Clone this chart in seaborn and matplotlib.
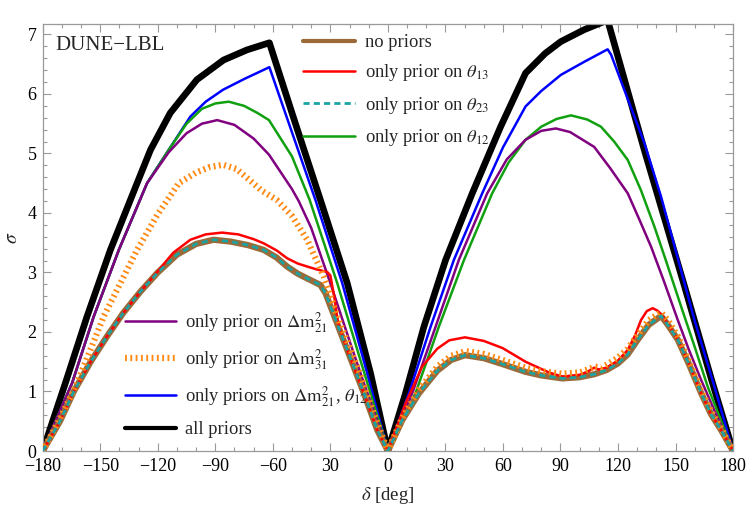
import matplotlib
matplotlib.use("Agg")
import matplotlib.pyplot as plt
from matplotlib.ticker import MultipleLocator
import seaborn as sns

# delta [deg] / sigma values
allp_x = [-180, -168.2, -156.9, -144.7, -130.8, -123.8, -113.5, -99.6, -85.7, -73.5, -61.8,
          -48.5, -35.2, -21.2, -9, 0, 9.2, 18.8, 30.1, 44, 58.8, 71.8, 82, 90.2, 102.4,
          114.6, 133.8, 154.6, 168.6, 180]
allp_y = [0, 1.14, 2.26, 3.38, 4.5, 5.06, 5.68, 6.24, 6.57, 6.74, 6.86,
          5.53, 4.22, 2.82, 1.3, 0, 0.97, 2.09, 3.21, 4.33, 5.45, 6.35, 6.68, 6.88, 7.08,
          7.24, 5.05, 2.78, 1.22, 0]

blue_x = [-180, -164.7, -153.4, -140.3, -125.6, -114.3, -103, -95, -86, -75, -61.8,
          -37.8, -23.8, -12, 0, 11, 22.3, 34.4, 49.2, 60, 71.8, 80, 90.2, 102.4, 114.6,
          116.4, 133.8, 142.5, 159.9, 170.3, 180]
blue_y = [0, 1.14, 2.26, 3.38, 4.5, 5.06, 5.62, 5.87, 6.07, 6.25, 6.45,
          4.22, 2.82, 1.45, 0, 0.97, 2.09, 3.21, 4.33, 5.1, 5.79, 6.05, 6.32, 6.54, 6.75,
          6.66, 5.17, 4.27, 2.2, 1.08, 0]

th12_x = [-180, -164.7, -153.4, -140.3, -125.6, -114.3, -105, -97, -90, -83, -75, -68,
          -62, -50, -40.8, -26.4, -15, 0, 14.4, 26.6, 39.7, 54.4, 63, 71.8, 80, 88, 95.5,
          104, 111.1, 118, 125.1, 132, 139, 145, 152.9, 160, 166.8, 180]
th12_y = [0, 1.14, 2.26, 3.38, 4.5, 5.06, 5.5, 5.75, 5.84, 5.87, 5.8, 5.68,
          5.56, 4.95, 4.22, 2.82, 1.6, 0, 0.97, 2.09, 3.21, 4.33, 4.85, 5.23, 5.45, 5.58, 5.64,
          5.57, 5.45, 5.2, 4.89, 4.38, 3.77, 3.2, 2.43, 1.75, 1.08, 0]

dm21_x = [-180, -164.7, -153.4, -140.3, -125.6, -114.3, -105, -97, -89, -80, -70, -62,
          -50, -46.5, -40, -30, -20, -12.5, 0, 12.7, 24.9, 37, 51.8, 62, 71.8, 80, 87.6,
          95, 107.6, 116, 125.1, 131, 137.3, 144, 151.2, 157, 163.4, 170, 180]
dm21_y = [0, 1.14, 2.26, 3.38, 4.5, 5.02, 5.34, 5.5, 5.56, 5.48, 5.25, 4.98,
          4.4, 4.2, 3.75, 2.82, 1.85, 1.14, 0, 0.97, 2.09, 3.21, 4.33, 4.9, 5.23, 5.38, 5.42,
          5.36, 5.11, 4.75, 4.33, 3.9, 3.43, 2.85, 2.2, 1.7, 1.19, 0.7, 0]

dm31_x = [-180, -171, -162.1, -148.2, -130.8, -120, -109, -100, -93, -86, -79, -72, -66,
          -58, -50, -42.1, -33.4, -26.4, -16, -7.3, 0, 7.5, 16.2, 25.8, 33, 40.6, 50,
          59.8, 71.8, 80, 91, 100, 105, 108, 111, 114, 120, 125, 130.3, 136, 142.5, 146,
          151.2, 157, 163.4, 168.5, 173.8, 180]
dm31_y = [0, 0.55, 1.14, 2.26, 3.38, 3.98, 4.5, 4.68, 4.77, 4.81, 4.74, 4.55, 4.38,
          4.22, 3.95, 3.55, 2.93, 2.26, 1.42, 0.63, 0, 0.56, 1.03, 1.42, 1.6, 1.68, 1.63,
          1.53, 1.4, 1.34, 1.3, 1.32, 1.38, 1.42, 1.4, 1.45, 1.57, 1.72, 1.95, 2.2, 2.33, 2.2,
          1.93, 1.52, 1.02, 0.67, 0.38, 0]

nopri_x = [-180, -171, -163.8, -155, -146.4, -138, -129, -120, -110, -100, -90.9, -82.2,
           -73, -64.8, -58, -52.6, -47, -42.1, -35.2, -32.5, -29.9, -21.2, -12.5, -5.5, 0,
           7.5, 16.2, 25.8, 33, 40.2, 50, 59.8, 71.8, 80, 91, 100, 107.6, 114, 119.9, 125,
           130.3, 136, 142.5, 146, 151.2, 157, 163.4, 168.5, 173.8, 180]
nopri_y = [0, 0.5, 1.0, 1.5, 1.93, 2.32, 2.68, 3.0, 3.3, 3.48, 3.55, 3.52,
           3.46, 3.38, 3.25, 3.1, 2.98, 2.9, 2.79, 2.65, 2.43, 1.7, 0.97, 0.35, 0,
           0.52, 0.97, 1.35, 1.53, 1.61, 1.56, 1.46, 1.33, 1.27, 1.22, 1.24, 1.29, 1.36, 1.47, 1.62,
           1.87, 2.12, 2.27, 2.12, 1.87, 1.46, 0.97, 0.62, 0.35, 0]

th13_x = [-180, -171, -163.8, -155, -146.4, -138, -129, -120, -112, -103, -95, -86.5,
          -78, -70, -64.8, -58, -52.6, -47, -42.1, -37, -31.7, -30, -28, -26, -21.2, -12.5,
          -5.5, 0, 9.2, 17.9, 25.8, 32, 40.2, 50, 59.8, 71.8, 77.2, 84, 91, 100, 104, 107.6,
          110, 114, 120, 125.1, 129, 132, 135, 138.1, 140.5, 142.5, 146, 151.2, 157, 163.4,
          168.5, 173.8, 180]
th13_y = [0, 0.5, 1.0, 1.5, 1.93, 2.32, 2.68, 3.02, 3.33, 3.55, 3.64, 3.67,
          3.64, 3.56, 3.49, 3.37, 3.24, 3.15, 3.1, 3.05, 3.01, 2.95, 2.6, 2.15, 1.7, 0.97,
          0.35, 0, 0.8, 1.42, 1.72, 1.86, 1.91, 1.85, 1.73, 1.5, 1.42, 1.32, 1.25, 1.28, 1.33, 1.4,
          1.37, 1.4, 1.52, 1.7, 1.95, 2.2, 2.35, 2.4, 2.36, 2.3, 2.14, 1.87, 1.46, 0.97,
          0.62, 0.35, 0]

# prior on theta23 lies on top of the no-prior curve
th23_x = nopri_x
th23_y = nopri_y

xtick_pos = [-180, -150, -120, -90, -60, -30, 0, 30, 60, 90, 120, 150, 180]
xtick_lab = ["\u2212180", "\u2212150", "\u2212120", "\u221290", "\u221260", "30",
             "0", "30", "60", "90", "120", "150", "180"]

sns.set_theme(style="ticks")
plt.rcParams["font.family"] = ["Liberation Serif", "DejaVu Serif"]
plt.rcParams["mathtext.fontset"] = "stix"

fig = plt.figure(figsize=(7.47, 5.08), dpi=100)
ax = fig.add_axes([0.0572, 0.1122, 0.9241, 0.8411])

sns.lineplot(x=allp_x, y=allp_y, ax=ax, color="black", lw=4.8, sort=False,
             estimator=None, label="all priors", zorder=2)
sns.lineplot(x=blue_x, y=blue_y, ax=ax, color="#0000ff", lw=1.8, sort=False,
             estimator=None, label=r"only priors on $\Delta\mathrm{m}^2_{21}$, $\theta_{12}$", zorder=3)
sns.lineplot(x=th12_x, y=th12_y, ax=ax, color="#10a010", lw=1.8, sort=False,
             estimator=None, label=r"only prior on $\theta_{12}$", zorder=3)
sns.lineplot(x=dm21_x, y=dm21_y, ax=ax, color="#800080", lw=1.8, sort=False,
             estimator=None, label=r"only prior on $\Delta\mathrm{m}^2_{21}$", zorder=3)
sns.lineplot(x=nopri_x, y=nopri_y, ax=ax, color="#9c6a38", lw=4.5, sort=False,
             estimator=None, label="no priors", zorder=4)
sns.lineplot(x=th13_x, y=th13_y, ax=ax, color="#ff0000", lw=1.8, sort=False,
             estimator=None, label=r"only prior on $\theta_{13}$", zorder=5)
sns.lineplot(x=dm31_x, y=dm31_y, ax=ax, color="#ff8a14", lw=4.5, sort=False,
             estimator=None, ls=(0, (0.3, 0.55)), dash_capstyle="butt",
             label=r"only prior on $\Delta\mathrm{m}^2_{31}$", zorder=6)
sns.lineplot(x=th23_x, y=th23_y, ax=ax, color="#1aa3a3", lw=2.0, sort=False,
             estimator=None, ls=(0, (2.2, 1.5)), dash_capstyle="butt",
             label=r"only prior on $\theta_{23}$", zorder=7)

if ax.get_legend() is not None:
    ax.get_legend().remove()

ax.set_xlim(-180, 180)
ax.set_ylim(0, 7.18)
ax.set_xticks(xtick_pos)
ax.set_xticklabels(xtick_lab)
ax.set_yticks(range(8))
ax.xaxis.set_minor_locator(MultipleLocator(10))
ax.yaxis.set_minor_locator(MultipleLocator(0.2))
ax.tick_params(which="both", direction="in", top=True, right=True, color="#999999",
               labelsize=13, labelcolor="black")
ax.tick_params(which="major", length=5.5, width=0.8)
ax.tick_params(which="minor", length=3, width=0.8)
ax.tick_params(axis="x", pad=5)
ax.tick_params(axis="y", pad=4.5)
for sp in ax.spines.values():
    sp.set_color("#999999")
    sp.set_linewidth(0.9)

ax.set_xlabel(r"$\delta$ [deg]", fontsize=13.5)
ax.xaxis.set_label_coords(0.5, -0.103)
ax.xaxis.label.set_va("center")
ax.set_ylabel(r"$\sigma$", fontsize=14)
ax.yaxis.set_label_coords(-0.044, 0.5)
ax.yaxis.label.set_va("center")

fig.text(55 / 747, 1 - 50 / 508, "DUNE\u2212LBL", fontsize=15, ha="left", va="baseline")

handles, labels = ax.get_legend_handles_labels()
hmap = dict(zip(labels, handles))
top_labels = ["no priors", r"only prior on $\theta_{13}$", r"only prior on $\theta_{23}$",
              r"only prior on $\theta_{12}$"]
bot_labels = [r"only prior on $\Delta\mathrm{m}^2_{21}$", r"only prior on $\Delta\mathrm{m}^2_{31}$",
              r"only priors on $\Delta\mathrm{m}^2_{21}$, $\theta_{12}$", "all priors"]

leg1 = ax.legend([hmap[l] for l in top_labels], top_labels, loc="upper left",
                 bbox_to_anchor=(303 / 747, 1 - 34 / 508), bbox_transform=fig.transFigure,
                 frameon=False, fontsize=13.3, handlelength=2.8, handletextpad=0.53,
                 labelspacing=0.62, borderpad=0, borderaxespad=0)
ax.add_artist(leg1)
leg2 = ax.legend([hmap[l] for l in bot_labels], bot_labels, loc="upper left",
                 bbox_to_anchor=(125 / 747, 1 - 310 / 508), bbox_transform=fig.transFigure,
                 frameon=False, fontsize=13.3, handlelength=2.75, handletextpad=0.5,
                 labelspacing=0.66, borderpad=0, borderaxespad=0)

# legend keys are drawn thinner than the curves for the thick lines
leg1.legend_handles[0].set_linewidth(3.0)
leg2.legend_handles[3].set_linewidth(3.0)

fig.savefig("out.png", dpi=100)
